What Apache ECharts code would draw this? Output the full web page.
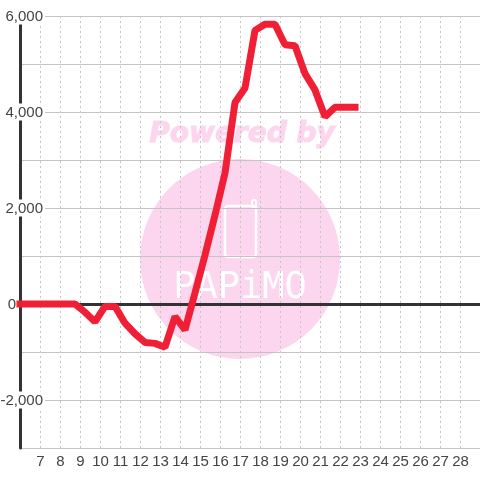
<!DOCTYPE html>
<html>
<head>
<meta charset="utf-8">
<script src="https://cdn.jsdelivr.net/npm/echarts@6/dist/echarts.min.js"></script>
<style>
html, body { margin: 0; padding: 0; background: #fff; }
#chart { width: 480px; height: 480px; }
</style>
</head>
<body>
<div id="chart"></div>
<script>
// hour of day (half hour steps), then the value
var hours = [6, 6.75, 7.25, 7.75, 8.25, 8.75, 9.25, 9.75, 10.25, 10.75, 11.25, 11.75, 12.25, 12.75, 13.25, 13.75, 14.25, 14.75, 15.25, 15.75, 16.25, 16.75, 17.25, 17.75, 18.25, 18.75, 19.25, 19.75, 20.25, 20.75, 21.25, 21.75, 22.25, 22.75];
var values = [0, 0, 0, 0, 0, 0, -170, -370, -50, -50, -400, -620, -800, -820, -900, -260, -540, 230, 1020, 1850, 2730, 4200, 4500, 5700, 5830, 5830, 5400, 5380, 4800, 4460, 3900, 4100, 4100, 4100];
var watermarkTop = 'Powered by';
var watermarkName = 'PAPiMO';

var points = hours.map(function (h, i) { return [h, values[i]]; });

var font = '"Liberation Sans", Arial, sans-serif';
var pink = '#fcd6ee';

var myChart = echarts.init(document.getElementById('chart'), null, { renderer: 'canvas' });
myChart.setOption({
    animation: false,
    backgroundColor: '#fff',
    grid: { left: 20, right: 0, top: 16, bottom: 32, outerBoundsMode: 'none' },
    graphic: [
        { type: 'circle', z: -10, shape: { cx: 240, cy: 259, r: 100 }, style: { fill: pink } },
        { type: 'text', z: -10, x: 242, y: 135, style: {
            text: watermarkTop, fill: pink, stroke: pink, lineWidth: 1, font: 'italic bold 28px "DejaVu Sans"',
            align: 'center', verticalAlign: 'middle' } },
        { type: 'rect', z: -9, shape: { x: 225, y: 206, width: 31, height: 51, r: 3 },
            style: { fill: 'none', stroke: '#fff', lineWidth: 2.5 } },
        { type: 'rect', z: -9, shape: { x: 252, y: 200, width: 4, height: 8, r: 2 },
            style: { fill: 'none', stroke: '#fff', lineWidth: 2 } },
        { type: 'text', z: -9, x: 240, y: 288, style: {
            text: watermarkName, fill: '#fff', font: '37px "DejaVu Sans Mono"',
            align: 'center', verticalAlign: 'middle' } }
    ],
    xAxis: [
        {
            type: 'value', min: 6, max: 29, interval: 1,
            axisLine: { show: false, onZero: false },
            axisTick: { show: false },
            axisLabel: {
                fontFamily: font, fontSize: 15, color: '#444', margin: 6, padding: [0, 0, 0, 1],
                formatter: function (v) { return (v <= 6 || v >= 29) ? '' : String(v); }
            },
            splitLine: { show: true, lineStyle: { color: '#c4c4c4', type: [2, 3], width: 1 } }
        },
        {
            // the dark line at zero
            type: 'value', min: 6, max: 29, interval: 1, position: 'bottom',
            axisLine: { show: true, onZero: true, lineStyle: { color: '#333', width: 3 } },
            axisTick: { show: false },
            axisLabel: { show: false },
            splitLine: { show: false }
        }
    ],
    yAxis: {
        type: 'value', min: -3000, max: 6000, interval: 1000,
        axisLine: { show: true, onZero: false, lineStyle: { color: '#333', width: 3 } },
        axisTick: { show: false },
        axisLabel: {
            margin: -25,
            formatter: function (v) {
                if (v === 0) return '{zero|0}';
                if (v % 2000 !== 0) return '';
                return '{num|' + echarts.format.addCommas(v) + '}';
            },
            rich: {
                num: { fontFamily: font, fontSize: 15, color: '#444', backgroundColor: '#fff', padding: [2, 2, 0, 0], lineHeight: 16 },
                zero: { fontFamily: font, fontSize: 15, color: '#444', padding: [2, 29, 0, 0], lineHeight: 16 }
            }
        },
        splitLine: { show: true, lineStyle: { color: '#c4c4c4', width: 1 } }
    },
    series: [{
        type: 'line',
        xAxisIndex: 0,
        data: points,
        showSymbol: false,
        clip: false,
        lineStyle: { color: '#f01f36', width: 7, cap: 'square', join: 'bevel' }
    }]
});
</script>
</body>
</html>
